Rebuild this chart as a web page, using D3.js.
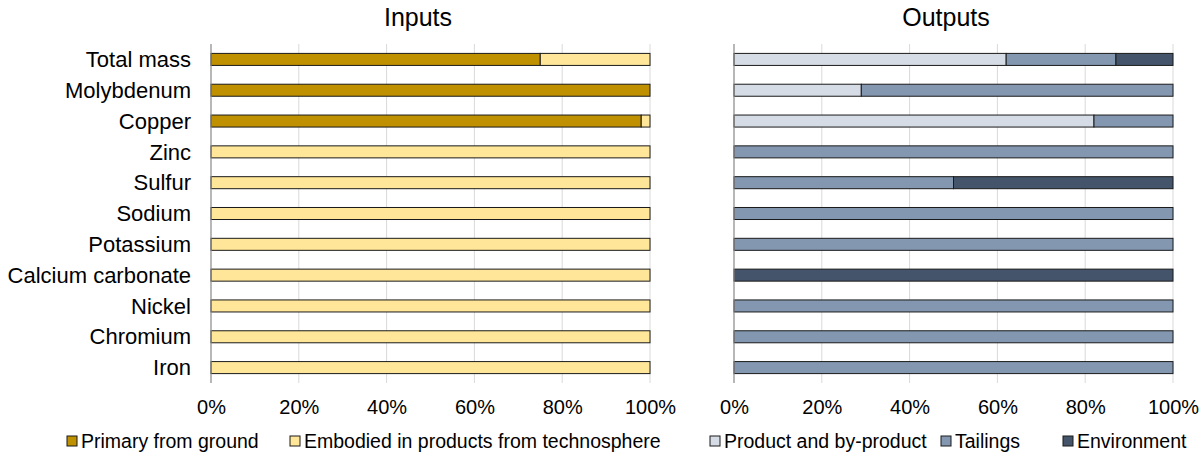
<!DOCTYPE html>
<html><head><meta charset="utf-8">
<script src="https://cdn.jsdelivr.net/npm/d3@7"></script>
<style>body{margin:0;background:#fff;font-family:"Liberation Sans",Arial,sans-serif;}</style>
</head><body><svg id="c" width="1199" height="452"></svg>
<script>
const categories = ["Total mass","Molybdenum","Copper","Zinc","Sulfur","Sodium","Potassium","Calcium carbonate","Nickel","Chromium","Iron"];
const primaryFromGround = [0.75,1.00,0.98,0,0,0,0,0,0,0,0];
const embodiedInProducts = [0.25,0,0.02,1,1,1,1,1,1,1,1];
const productAndByproduct = [0.62,0.29,0.82,0,0,0,0,0,0,0,0];
const tailings = [0.25,0.71,0.18,1,0.50,1,1,0,1,1,1];
const environment = [0.13,0,0,0,0.50,0,0,1,0,0,0];
const tickValues = [0,0.2,0.4,0.6,0.8,1.0];

const svg = d3.select("#c");
const font = '"Liberation Sans",Arial,sans-serif';
const y = d3.scaleBand().domain(categories).range([44,383]).paddingInner(0.61).paddingOuter(0.305);

function panel(x0, x1, title, titleX, seriesList) {
  const x = d3.scaleLinear().domain([0,1]).range([x0,x1]);
  const g = svg.append("g");
  g.selectAll(".grid").data(tickValues.slice(1)).join("line")
    .attr("x1", d=>x(d)).attr("x2", d=>x(d)).attr("y1",44).attr("y2",383)
    .attr("stroke","#d9d9d9").attr("stroke-width",1);
  const stackData = categories.map((c,i)=>{const o={cat:c}; seriesList.forEach(s=>o[s.name]=s.values[i]); return o;});
  const stack = d3.stack().keys(seriesList.map(s=>s.name))(stackData);
  stack.forEach((layer,k)=>{
    g.selectAll(null).data(layer.filter(d=>d[1]-d[0]>0)).join("rect")
      .attr("x", d=>x(d[0])).attr("width", d=>x(d[1])-x(d[0]))
      .attr("y", d=>y(d.data.cat)).attr("height", y.bandwidth())
      .attr("fill", seriesList[k].color).attr("stroke","#1a1a1a").attr("stroke-width",1);
  });
  g.append("line").attr("x1",x0).attr("x2",x0).attr("y1",44).attr("y2",383).attr("stroke","#888").attr("stroke-width",1.2);
  const ax = g.append("g").attr("transform","translate(0,383)")
    .call(d3.axisBottom(x).tickValues(tickValues).tickFormat(d3.format(".0%")).tickSize(0).tickPadding(17));
  ax.select(".domain").remove();
  ax.selectAll("text").attr("font-size",20).attr("font-family",font).attr("fill","#000");
  svg.append("text").attr("x",titleX).attr("y",26).attr("text-anchor","middle")
    .attr("font-size",25).attr("font-family",font).text(title);
  return x;
}

panel(211,650,"Inputs",418,[
  {name:"Primary from ground", values:primaryFromGround, color:"#BF9000"},
  {name:"Embodied in products from technosphere", values:embodiedInProducts, color:"#FFE699"}]);
panel(734,1173,"Outputs",946,[
  {name:"Product and by-product", values:productAndByproduct, color:"#D6DCE5"},
  {name:"Tailings", values:tailings, color:"#8497B0"},
  {name:"Environment", values:environment, color:"#44546A"}]);

svg.append("g").selectAll("text").data(categories).join("text")
  .attr("x",191).attr("y",d=>y(d)+y.bandwidth()/2).attr("dy","0.35em")
  .attr("text-anchor","end").attr("font-size",22).attr("font-family",font).text(d=>d);

const legend = [
  {name:"Primary from ground", color:"#BF9000", x:67},
  {name:"Embodied in products from technosphere", color:"#FFE699", x:290},
  {name:"Product and by-product", color:"#D6DCE5", x:710},
  {name:"Tailings", color:"#8497B0", x:941},
  {name:"Environment", color:"#44546A", x:1063}];
const lg = svg.append("g").selectAll("g").data(legend).join("g").attr("transform",d=>`translate(${d.x},436)`);
lg.append("rect").attr("width",10).attr("height",10).attr("fill",d=>d.color).attr("stroke","#1a1a1a").attr("stroke-width",1);
lg.append("text").attr("x",14).attr("y",5).attr("dy","0.35em").attr("font-size",19.5).attr("font-family",font).text(d=>d.name);
</script></body></html>
